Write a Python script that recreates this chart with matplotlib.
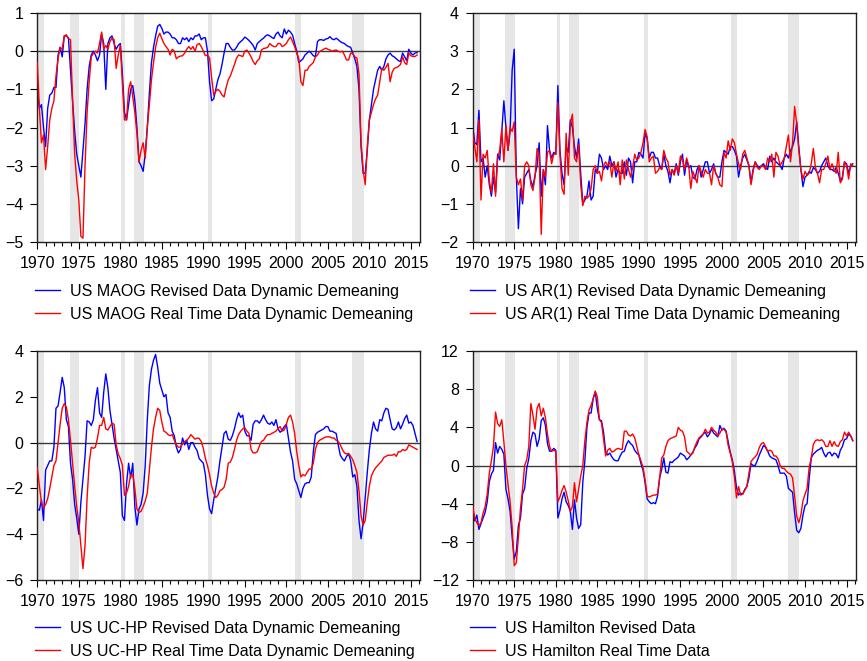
import numpy as np
import matplotlib
matplotlib.use('Agg')
import matplotlib.pyplot as plt
from matplotlib.ticker import MultipleLocator

plt.rcParams['font.family'] = ['Liberation Sans', 'DejaVu Sans']
plt.rcParams['axes.unicode_minus'] = True

# ---------------- data (quarterly, 1970Q1 .. 2015Q4) ----------------
first_year = 1970
n_quarters = 184
dates = first_year + np.arange(n_quarters) * 0.25

rec_start = [1969.9, 1973.9, 1980.1, 1981.6, 1990.6, 2001.1, 2007.9]
rec_end = [1970.85, 1975.05, 1980.55, 1982.85, 1991.05, 2001.8, 2009.3]

maog_revised = [
    -1.0, -1.5, -1.4, -2.0,  -2.5, -1.5, -1.15, -1.1,  -0.95, -0.95, -0.1, 0.1,
    -0.15, 0.4, 0.4, 0.35,  -0.5, -1.3, -2.1, -2.7,  -3.0, -3.3, -2.6, -1.9,
    -1.0, -0.4, -0.1, 0.0,  -0.1, -0.25, -0.1, 0.45,  0.2, -1.0, 0.2, 0.35,
    0.4, 0.2, 0.05, 0.15,  0.2, -0.6, -1.6, -1.8,  -1.4, -1.0, -0.9, -1.3,
    -2.0, -2.9, -3.0, -3.15,  -2.7, -2.0, -1.1, -0.3,  0.1, 0.4, 0.65, 0.7,
    0.6, 0.45, 0.5, 0.5,  0.45, 0.35, 0.35, 0.3,  0.2, 0.2, 0.35, 0.3,
    0.35, 0.25, 0.35, 0.3,  0.4, 0.4, 0.45, 0.3,  0.35, 0.35, 0.0, -0.8,
    -1.3, -1.25, -1.0, -0.75,  -0.6, -0.35, -0.05, 0.2,  0.2, 0.1, 0.03, 0.03,
    0.1, 0.2, 0.25, 0.3,  0.37, 0.33, 0.28, 0.22,  0.15, 0.03, 0.2, 0.25,
    0.3, 0.34, 0.4, 0.43,  0.4, 0.36, 0.33, 0.45,  0.5, 0.4, 0.35, 0.58,
    0.45, 0.55, 0.5, 0.42,  0.2, 0.0, -0.3, -0.25,  -0.2, -0.1, -0.05, 0.0,
    -0.05, -0.12, -0.14, 0.25,  0.3, 0.3, 0.28, 0.32,  0.33, 0.38, 0.32, 0.3,
    0.34, 0.3, 0.25, 0.22,  0.2, 0.15, 0.12, 0.1,  -0.05, -0.2, -0.4, -1.0,
    -2.5, -3.2, -3.2, -2.6,  -1.8, -1.4, -1.0, -0.75,  -0.5, -0.4, -0.5, -0.4,
    -0.2, -0.1, -0.05, -0.12,  -0.15, -0.2, -0.25, -0.27,  -0.05, -0.15, -0.25, 0.05,
    -0.05, -0.1, -0.05, -0.04,
]
maog_realtime = [
    -0.3, -1.5, -2.4, -2.2,  -3.1, -2.5, -1.8, -1.5,  -1.3, -0.65, -0.2, 0.1,
    0.05, 0.4, 0.43, 0.33,  0.3, -1.3, -2.7, -3.4,  -3.9, -4.85, -4.9, -3.0,
    -1.6, -0.8, -0.15, -0.05,  0.0, -0.05, 0.2, 0.5,  0.05, 0.15, 0.05, 0.25,
    0.35, 0.3, -0.45, -0.1,  0.15, -0.85, -1.8, -1.8,  -1.0, -0.8, -1.2, -1.6,
    -2.15, -2.9, -2.6, -2.4,  -2.8, -2.0, -1.4, -0.75,  -0.3, 0.1, 0.35, 0.47,
    0.33, 0.2, 0.12, 0.05,  -0.1, 0.05, 0.0, -0.2,  -0.15, -0.13, -0.12, -0.05,
    0.05, 0.12, 0.05, 0.12,  0.0, 0.17, 0.2, 0.12,  0.0, -0.12, -0.1, -0.18,
    -0.7, -1.15, -1.05, -1.0,  -1.05, -1.15, -1.2, -0.95,  -0.75, -0.65, -0.5, -0.35,
    -0.18, -0.1, -0.12, -0.14,  0.0, 0.03, -0.05, -0.15,  -0.27, -0.35, -0.25, -0.2,
    0.03, 0.07, 0.08, 0.1,  0.2, 0.15, 0.12, 0.12,  0.2, 0.2, 0.12, 0.15,
    0.2, 0.3, 0.37, 0.25,  0.12, -0.05, -0.2, -0.8,  -0.9, -0.5, -0.5, -0.4,
    -0.35, -0.3, -0.15, -0.1,  -0.01, 0.02, 0.05, 0.08,  0.05, 0.03, 0.0, 0.02,
    0.03, 0.0, -0.02, 0.0,  -0.1, -0.23, -0.23, -0.05,  -0.06, -0.15, -0.18, -0.6,
    -2.4, -3.1, -3.5, -2.5,  -1.8, -1.6, -1.4, -1.25,  -1.15, -0.8, -0.45, -0.5,
    -0.42, -0.32, -0.8, -0.55,  -0.45, -0.43, -0.4, -0.35,  -0.15, -0.3, -0.35, -0.05,
    -0.12, -0.14, -0.14, -0.1,
]

ar1_revised = [
    1.05, 0.6, 0.55, 1.45,  0.1, 0.2, -0.3, 0.0,  -0.5, -0.8, -0.3, -0.7,
    0.3, 0.15, 0.9, 1.7,  1.0, 0.4, 0.9, 2.5,  3.05, -0.3, -1.65, -0.6,
    -1.0, -0.3, -0.2, -0.1,  -0.4, -0.55, -0.25, 0.0,  0.6, -0.8, -0.1, -0.5,
    1.05, 0.4, 0.2, 0.35,  0.3, 2.1, 0.4, -0.2,  -0.5, 0.5, 0.35, 1.2,
    1.0, 0.5, 0.2, 0.7,  -0.2, -1.0, -0.9, -0.8,  -0.4, -0.9, -0.8, -0.1,
    -0.2, 0.3, 0.2, -0.1,  0.0, -0.1, 0.25, 0.0,  0.1, -0.3, -0.1, -0.2,
    -0.2, 0.1, -0.25, 0.2,  0.1, -0.45, 0.1, 0.1,  0.35, 0.3, 0.2, 0.85,
    0.7, 0.2, 0.35, 0.35,  0.2, 0.2, 0.0, -0.1,  0.3, 0.0, -0.15, -0.45,
    -0.1, -0.2, 0.05, -0.25,  0.1, 0.3, -0.25, 0.15,  -0.05, 0.0, -0.3, -0.35,
    -0.1, 0.0, -0.3, -0.1,  0.1, 0.1, -0.2, -0.1,  0.05, -0.2, -0.3, -0.3,
    0.1, 0.4, 0.35, 0.3,  0.5, 0.5, 0.4, 0.25,  -0.3, 0.0, 0.2, 0.3,
    0.15, 0.0, -0.45, -0.1,  0.1, 0.0, -0.05, 0.0,  0.05, -0.05, -0.1, 0.25,
    0.1, 0.2, 0.1, 0.05,  0.0, -0.1, 0.2, 0.3,  0.2, 0.4, 0.5, 0.7,
    1.15, 0.5, -0.1, -0.55,  -0.3, -0.25, -0.15, -0.2,  -0.05, -0.1, -0.2, -0.15,
    0.0, 0.1, 0.2, 0.0,  -0.1, -0.1, -0.15, -0.05,  -0.2, -0.4, -0.3, 0.1,
    0.05, -0.2, 0.0, 0.05,
]
ar1_realtime = [
    0.8, 0.5, 0.1, 1.2,  -0.9, 0.3, 0.2, 0.4,  -0.4, -0.7, 0.05, -0.8,
    0.2, 0.4, 0.95, 0.1,  1.05, 0.4, 1.0, 0.9,  1.15, -0.3, -0.5, -0.35,
    -0.9, 0.0, 0.1, 0.0,  -0.5, -0.65, -0.3, 0.45,  0.3, -1.8, -0.1, -0.3,
    0.35, 0.4, 0.05, 0.3,  0.3, 1.65, 0.3, -0.6,  -0.75, 0.85, -0.25, 1.1,
    1.35, 0.2, 0.1, 0.55,  -0.5, -1.05, -0.8, -0.85,  -0.8, -0.6, -0.1, 0.0,
    -0.2, -0.15, -0.4, 0.0,  0.1, 0.0, 0.1, -0.3,  0.1, -0.15, 0.1, -0.5,
    0.15, -0.35, 0.15, -0.1,  -0.3, -0.05, 0.3, 0.15,  0.2, 0.35, 0.6, 0.95,
    0.75, 0.1, 0.2, 0.25,  -0.2, -0.15, -0.05, -0.1,  0.4, 0.2, 0.1, -0.25,
    -0.1, -0.25, 0.0, -0.2,  0.25, 0.15, -0.1, 0.2,  0.0, -0.6, -0.15, -0.3,
    -0.45, 0.0, -0.15, -0.3,  -0.1, -0.2, -0.2, -0.5,  0.0, -0.2, -0.3, -0.5,
    -0.55, 0.35, 0.2, 0.65,  0.4, 0.7, 0.6, 0.3,  0.05, -0.1, 0.3, 0.4,
    0.2, 0.0, -0.5, -0.15,  0.1, -0.05, -0.1, 0.0,  0.0, -0.1, 0.2, 0.1,
    0.3, -0.3, 0.35, 0.25,  0.0, 0.1, 0.2, 0.5,  0.8, 0.1, 0.6, 1.55,
    1.1, 0.4, -0.1, -0.35,  -0.15, -0.25, -0.2, 0.05,  0.45, -0.05, -0.2, -0.45,
    -0.1, -0.1, 0.05, 0.25,  -0.1, 0.05, -0.1, -0.2,  0.35, -0.45, -0.35, 0.1,
    0.0, -0.35, 0.05, 0.0,
]

uchp_revised = [
    -2.9, -2.95, -2.5, -3.4,  -1.2, -1.0, -0.8, -0.8,  -0.2, 1.5, 1.6, 2.2,
    2.85, 2.4, 1.0, 0.7,  -0.9, -1.6, -2.7, -3.3,  -4.0, -2.6, -1.6, -0.6,
    0.95, 0.9, 0.75, 1.0,  1.85, 2.4, 1.3, 1.1,  2.2, 3.0, 2.4, 1.4,
    0.8, 0.2, -0.3, -0.8,  -1.3, -3.2, -3.4, -1.8,  -0.9, -1.55, -0.9, -2.8,
    -3.6, -2.9, -2.7, -2.2,  -1.0, 1.0, 2.5, 3.2,  3.6, 3.85, 3.3, 2.6,
    2.3, 2.0, 2.1, 1.3,  1.1, 0.5, 0.3, -0.2,  -0.45, -0.3, 0.2, -0.1,
    0.1, -0.3, 0.0, 0.0,  -0.2, -0.35, -0.7, -0.8,  -0.9, -1.4, -2.3, -2.9,
    -3.1, -2.5, -2.0, -1.5,  -0.8, -0.2, 0.4, 0.5,  0.15, 0.1, 0.3, 0.6,
    1.0, 1.3, 1.1, 1.2,  0.5, 0.3, 0.3, 0.1,  0.8, 0.95, 0.95, 0.85,
    1.0, 1.2, 1.0, 0.85,  0.8, 0.9, 0.75, 1.0,  0.6, 0.45, 0.55, 0.7,
    0.8, 0.2, -0.4, -0.8,  -1.6, -1.8, -2.1, -2.4,  -2.0, -1.8, -1.75, -1.75,
    -1.5, -0.4, 0.35, 0.45,  0.5, 0.55, 0.6, 0.7,  0.7, 0.5, 0.5, 0.45,
    0.4, -0.1, -0.55, -0.7,  -0.8, -0.6, -0.5, -0.8,  -1.5, -1.4, -1.9, -3.4,
    -4.2, -3.5, -2.4, -1.3,  -0.3, 0.4, 0.9, 0.6,  0.5, 1.0, 0.95, 1.3,
    1.5, 1.45, 1.0, 0.6,  0.55, 0.65, 0.9, 0.6,  0.8, 1.05, 1.2, 0.85,
    0.9, 0.75, 0.4, 0.05,
]
uchp_realtime = [
    -1.1, -1.9, -2.6, -2.85,  -2.7, -2.45, -2.0, -1.5,  -1.0, -0.8, 0.0, 0.8,
    1.5, 1.7, 1.55, 1.0,  0.1, -0.9, -1.9, -2.8,  -3.5, -4.5, -5.5, -4.5,
    -2.4, -0.9, -0.2, -0.25,  -0.2, 0.2, 0.75, 0.75,  1.1, 0.6, 0.55, 0.7,
    0.85, 0.8, -0.1, -0.5,  -0.7, -1.0, -2.3, -2.2,  -1.9, -1.4, -1.4, -2.0,
    -2.9, -3.05, -3.0, -2.8,  -2.55, -2.2, -1.2, -0.2,  0.6, 1.1, 1.5, 1.4,
    0.9, 0.5, 0.45, 0.35,  0.3, 0.35, 0.1, -0.1,  -0.2, -0.2, -0.05, 0.05,
    0.1, 0.2, 0.35, 0.25,  0.15, 0.2, 0.18, 0.05,  -0.25, -0.7, -1.0, -1.4,
    -1.9, -2.2, -2.4, -2.3,  -2.1, -2.05, -1.95, -1.6,  -0.9, -0.85, -0.65, -0.3,
    0.1, 0.35, 0.5, 0.6,  0.65, 0.5, 0.4, -0.3,  -0.45, -0.45, -0.4, -0.15,
    0.05, 0.1, 0.25, 0.35,  0.35, 0.4, 0.45, 0.5,  0.6, 0.7, 0.5, 0.55,
    0.8, 1.1, 1.2, 0.9,  0.4, -0.4, -1.0, -1.5,  -1.4, -1.45, -1.3, -1.15,
    -1.15, -0.9, -0.3, 0.0,  0.1, 0.15, 0.2, 0.25,  0.25, 0.25, 0.2, 0.2,
    0.1, 0.05, -0.1, -0.3,  -0.45, -0.5, -0.47, -0.6,  -0.75, -1.0, -1.3, -2.1,
    -3.2, -3.6, -3.4, -2.6,  -1.9, -1.45, -1.25, -1.1,  -1.0, -0.9, -0.8, -0.65,
    -0.6, -0.55, -0.55, -0.55,  -0.5, -0.6, -0.4, -0.4,  -0.3, -0.35, -0.3, -0.1,
    -0.15, -0.2, -0.25, -0.3,
]

hamilton_revised = [
    -4.6, -5.8, -5.2, -6.7,  -6.1, -5.5, -4.9, -3.8,  -1.7, -0.9, -0.5, 2.4,
    1.3, 2.0, 1.7, 1.2,  -2.5, -3.5, -4.8, -7.5,  -9.8, -9.0, -6.3, -5.5,
    -3.0, -2.4, -0.3, 0.7,  2.6, 3.5, 3.3, 2.0,  2.8, 4.7, 5.0, 4.2,
    2.3, 1.5, 1.5, 1.8,  1.6, -5.5, -4.7, -3.5,  -2.8, -3.8, -4.2, -4.8,
    -6.7, -3.6, -5.5, -6.6,  -6.2, -1.8, 0.5, 4.0,  5.5, 5.5, 7.0, 7.7,
    6.0, 4.8, 4.7, 3.5,  1.5, 1.1, 1.3, 0.9,  0.6, 0.5, 0.5, 1.0,
    1.4, 1.5, 2.2, 2.6,  2.3, 2.1, 1.6, 1.3,  1.1, 0.2, -0.5, -1.8,
    -3.5, -3.8, -4.0, -3.9,  -4.0, -3.2, -1.3, -0.4,  0.8, -0.7, -0.8, 0.4,
    0.3, 0.55, 0.7, 0.9,  1.3, 1.15, 1.0, 0.6,  0.8, 1.1, 1.4, 1.85,
    2.2, 2.8, 3.0, 3.3,  3.5, 3.0, 3.3, 3.8,  3.4, 3.2, 3.0, 4.2,
    3.7, 3.9, 3.6, 2.5,  1.4, 0.6, -0.6, -2.3,  -3.1, -2.9, -3.0, -2.5,
    -2.2, -1.3, 0.2, 0.0,  0.0, 0.5, 1.1, 1.6,  2.1, 1.9, 1.5, 1.0,
    0.8, 0.7, 0.6, 0.0,  -0.8, -0.8, -0.8, -1.1,  -2.4, -2.6, -2.8, -5.0,
    -6.8, -7.05, -6.6, -5.2,  -4.2, -4.0, -1.4, 0.8,  1.2, 1.4, 1.6, 1.7,
    1.9, 1.3, 0.9, 1.3,  1.4, 1.0, 1.3, 1.2,  0.8, 1.6, 2.0, 2.7,
    2.8, 3.3, 3.1, 2.6,
]
hamilton_realtime = [
    -4.3, -5.5, -6.0, -6.3,  -6.0, -5.0, -4.3, -3.0,  -0.8, 0.5, 2.0, 5.6,
    4.4, 4.1, 4.8, 2.5,  0.0, -2.0, -3.8, -6.5,  -10.5, -10.2, -7.5, -4.5,
    -2.5, 0.0, 0.6, 2.0,  6.5, 5.3, 3.8, 6.0,  6.5, 5.2, 6.0, 5.0,
    3.3, 2.0, 1.5, 1.6,  1.5, -3.8, -3.3, -2.6,  -2.1, -2.8, -3.7, -4.8,
    -4.3, -1.8, -3.8, -2.5,  -1.1, 0.0, 2.6, 4.5,  5.8, 6.3, 7.0, 7.8,
    7.2, 4.8, 4.5, 2.8,  1.0, 1.6, 1.8, 1.4,  1.5, 1.7, 1.8, 1.7,
    1.7, 3.6, 3.6, 3.2,  3.1, 3.3, 2.9, 2.0,  1.1, 0.5, -0.2, -1.5,
    -3.2, -3.3, -3.2, -3.1,  -3.1, -3.0, -1.3, 0.8,  1.1, 2.0, 2.6, 2.8,
    2.9, 3.0, 3.1, 4.0,  3.7, 3.6, 3.0, 1.5,  1.3, 1.1, 1.3, 2.0,
    2.5, 2.9, 3.1, 3.3,  3.8, 3.4, 3.5, 4.0,  3.7, 3.5, 3.1, 3.4,
    3.8, 3.8, 3.5, 2.1,  1.3, 0.4, -1.2, -3.4,  -2.2, -3.1, -3.0, -2.6,
    -2.2, -0.8, 0.4, 0.7,  0.9, 1.2, 1.9, 2.3,  2.4, 2.0, 1.5, 1.6,
    1.5, 1.0, 1.0, 0.7,  0.0, -0.3, -0.3, -0.6,  -0.8, -0.9, -1.3, -3.2,
    -5.3, -6.0, -5.2, -3.7,  -3.0, -2.4, -0.2, 0.8,  2.2, 2.6, 2.7, 2.6,
    2.7, 2.5, 2.0, 2.0,  2.6, 2.0, 2.5, 2.1,  2.0, 2.5, 2.7, 3.5,
    3.1, 3.5, 3.1, 2.6,
]

labels_maog = ["US MAOG Revised Data Dynamic Demeaning",
               "US MAOG Real Time Data Dynamic Demeaning"]
labels_ar1 = ["US AR(1) Revised Data Dynamic Demeaning",
              "US AR(1) Real Time Data Dynamic Demeaning"]
labels_uchp = ["US UC-HP Revised Data Dynamic Demeaning",
               "US UC-HP Real Time Data Dynamic Demeaning"]
labels_ham = ["US Hamilton Revised Data", "US Hamilton Real Time Data"]

ylims = [(-5, 1), (-2, 4), (-6, 4), (-12, 12)]
ysteps = [1, 1, 2, 4]
xticks_major = [1970, 1975, 1980, 1985, 1990, 1995, 2000, 2005, 2010, 2015]

for arr in (maog_revised, maog_realtime, ar1_revised, ar1_realtime,
            uchp_revised, uchp_realtime, hamilton_revised, hamilton_realtime):
    assert len(arr) == n_quarters, len(arr)

# ---------------- figure ----------------
fig = plt.figure(figsize=(8.67, 6.61), dpi=100)

W, H = 867.0, 661.0
ax_boxes = [
    (37.3, 13, 420.0, 242),
    (472.7, 13, 855.7, 242),
    (37.3, 351, 420.0, 580),
    (472.7, 351, 855.7, 580),
]
legend_pos = [(35, 303), (470, 303), (35, 640), (470, 640)]

series = [
    (maog_revised, maog_realtime, labels_maog),
    (ar1_revised, ar1_realtime, labels_ar1),
    (uchp_revised, uchp_realtime, labels_uchp),
    (hamilton_revised, hamilton_realtime, labels_ham),
]

for i, (blue, red, labs) in enumerate(series):
    x0, y0, x1, y1 = ax_boxes[i]
    ax = fig.add_axes([x0 / W, 1 - y1 / H, (x1 - x0) / W, (y1 - y0) / H])
    for s, e in zip(rec_start, rec_end):
        ax.axvspan(s, e, color='#e6e6e6', lw=0, zorder=0)
    ax.axhline(0, color='#3a3a3a', lw=1.0, zorder=1)
    l1, = ax.plot(dates, blue, color='#0000ff', lw=1.0, zorder=2)
    l2, = ax.plot(dates, red, color='#ff0000', lw=1.0, zorder=3)
    ax.set_xlim(1970, 2016.1)
    ax.set_ylim(*ylims[i])
    ax.set_xticks(xticks_major)
    ax.xaxis.set_minor_locator(MultipleLocator(1))
    ax.yaxis.set_major_locator(MultipleLocator(ysteps[i]))
    ax.tick_params(axis='both', which='major', direction='out', length=5,
                   width=0.8, labelsize=11.5, pad=5, colors='black')
    ax.tick_params(axis='x', which='minor', direction='out', length=3, width=0.8)
    for sp in ax.spines.values():
        sp.set_linewidth(1.0)
        sp.set_color('#222222')
    lx, ly = legend_pos[i]
    ax.legend([l1, l2], labs, loc='center left',
              bbox_to_anchor=(lx / W, 1 - ly / H), bbox_transform=fig.transFigure,
              frameon=False, borderpad=0, borderaxespad=0, handlelength=1.55,
              handletextpad=0.65, labelspacing=0.5, fontsize=11.5)

fig.savefig('out.png', dpi=100)
